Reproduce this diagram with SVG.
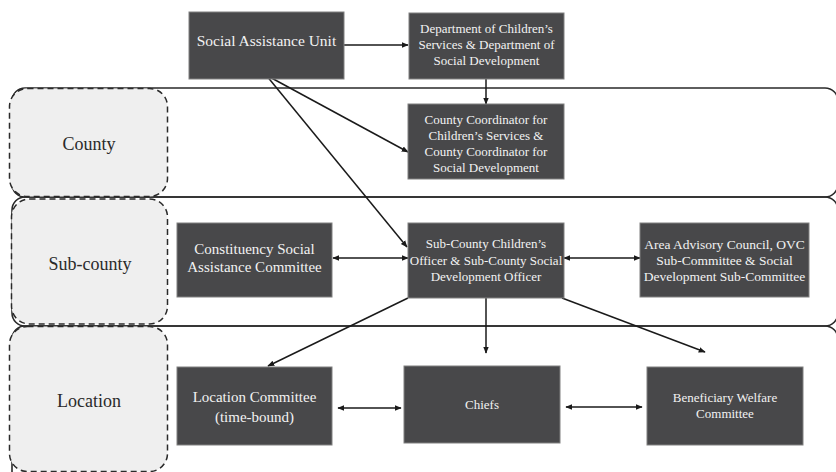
<svg xmlns="http://www.w3.org/2000/svg" width="836" height="472" viewBox="0 0 836 472">
<defs>
<style>
.lane{fill:none;stroke:#2a2a2a;stroke-width:1.6}
.lbl{fill:#efefef;stroke:#2a2a2a;stroke-width:1.5;stroke-dasharray:6 4}
.lt{font-size:18px;fill:#2a2a2a;text-anchor:middle}
.box{fill:#48484a;stroke:#808080;stroke-width:1}
.bt{font-size:13px;fill:#f2f2f2;text-anchor:middle}
.bt15{font-size:15px;fill:#f2f2f2;text-anchor:middle}
.c{fill:none;stroke:#1a1a1a;stroke-width:1.5}
</style>
<marker id="ah" viewBox="0 0 10 10" refX="9" refY="5" markerWidth="7" markerHeight="7" orient="auto-start-reverse" markerUnits="userSpaceOnUse">
<path d="M0,1 L10,5 L0,9 Z" fill="#1a1a1a"/>
</marker>
</defs>
<g font-family="Liberation Serif, DejaVu Serif, serif">
<g id="lanes">
<rect class="lane" x="12" y="88" width="826" height="109" rx="13"/>
<rect class="lane" x="12" y="197" width="826" height="129" rx="13"/>
<rect class="lane" x="12" y="326" width="826" height="160" rx="13"/>
</g>
<g id="lane-county">
<rect class="lbl" x="9.5" y="88.5" width="158" height="108" rx="18"/>
<text class="lt" x="89" y="150">County</text>
</g>
<g id="lane-subcounty">
<rect class="lbl" x="11.5" y="199" width="156" height="125" rx="18"/>
<text class="lt" x="90" y="270">Sub-county</text>
</g>
<g id="lane-location">
<rect class="lbl" x="9.5" y="326.5" width="158" height="145" rx="18"/>
<text class="lt" x="89" y="407">Location</text>
</g>
<g id="connectors">
<line class="c" x1="344" y1="45" x2="408" y2="45" marker-end="url(#ah)"/>
<line class="c" x1="486" y1="79" x2="486" y2="104" marker-end="url(#ah)"/>
<line class="c" x1="266" y1="75" x2="408" y2="152" marker-end="url(#ah)"/>
<line class="c" x1="266" y1="75" x2="407" y2="247" marker-end="url(#ah)"/>
<line class="c" x1="333" y1="258" x2="408" y2="258" marker-start="url(#ah)" marker-end="url(#ah)"/>
<line class="c" x1="564" y1="258" x2="640" y2="258" marker-start="url(#ah)" marker-end="url(#ah)"/>
<line class="c" x1="486" y1="298" x2="486" y2="353" marker-end="url(#ah)"/>
<line class="c" x1="408" y1="298" x2="268" y2="366" marker-end="url(#ah)"/>
<line class="c" x1="562" y1="298" x2="705" y2="352" marker-end="url(#ah)"/>
<line class="c" x1="338" y1="408" x2="401" y2="408" marker-start="url(#ah)" marker-end="url(#ah)"/>
<line class="c" x1="566" y1="407" x2="642" y2="407" marker-start="url(#ah)" marker-end="url(#ah)"/>
</g>
<g id="social-assistance-unit">
<rect class="box" x="189" y="12" width="155" height="67"/>
<text class="bt15" x="266.5" y="46" style="font-size:15.5px">Social Assistance Unit</text>
</g>
<g id="department">
<rect class="box" x="409" y="13" width="155" height="66"/>
<text class="bt" x="486.5" y="33">Department of Children’s</text>
<text class="bt" x="486.5" y="49">Services &amp; Department of</text>
<text class="bt" x="486.5" y="65">Social Development</text>
</g>
<g id="county-coordinator">
<rect class="box" x="408" y="104" width="156" height="75"/>
<text class="bt" x="486" y="124">County Coordinator for</text>
<text class="bt" x="486" y="140">Children’s Services &amp;</text>
<text class="bt" x="486" y="156">County Coordinator for</text>
<text class="bt" x="486" y="172">Social Development</text>
</g>
<g id="constituency-committee">
<rect class="box" x="177" y="223" width="155" height="74"/>
<text class="bt15" x="254.5" y="254">Constituency Social</text>
<text class="bt15" x="254.5" y="272">Assistance Committee</text>
</g>
<g id="subcounty-officer">
<rect class="box" x="408" y="223" width="156" height="75"/>
<text class="bt" x="486" y="248">Sub-County Children’s</text>
<text class="bt" x="486" y="265">Officer &amp; Sub-County Social</text>
<text class="bt" x="486" y="281">Development Officer</text>
</g>
<g id="area-advisory-council">
<rect class="box" x="640" y="223" width="169" height="74"/>
<text class="bt" x="724.5" y="249" style="font-size:13.5px">Area Advisory Council, OVC</text>
<text class="bt" x="724.5" y="265" style="font-size:13.5px">Sub-Committee &amp; Social</text>
<text class="bt" x="724.5" y="281" style="font-size:13.5px">Development Sub-Committee</text>
</g>
<g id="location-committee">
<rect class="box" x="177" y="367" width="155" height="78"/>
<text class="bt15" x="254.5" y="402">Location Committee</text>
<text class="bt15" x="254.5" y="422">(time-bound)</text>
</g>
<g id="chiefs">
<rect class="box" x="404" y="366" width="156" height="77"/>
<text class="bt" x="482" y="409">Chiefs</text>
</g>
<g id="beneficiary-welfare-committee">
<rect class="box" x="647" y="367" width="156" height="78"/>
<text class="bt" x="725" y="402">Beneficiary Welfare</text>
<text class="bt" x="725" y="418">Committee</text>
</g>
</g>
</svg>
